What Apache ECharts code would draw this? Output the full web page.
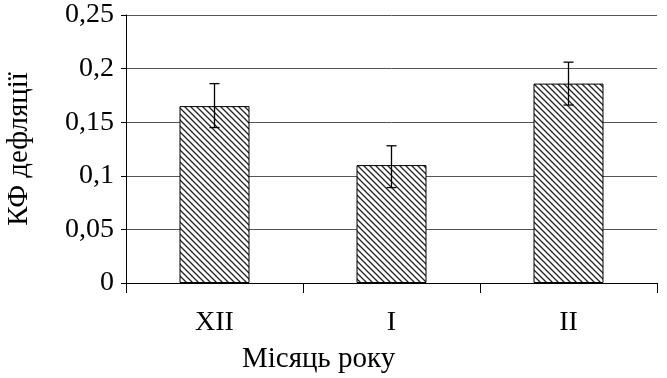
<!DOCTYPE html>
<html><head><meta charset="utf-8">
<script src="https://cdn.jsdelivr.net/npm/echarts@6/dist/echarts.min.js"></script>
<style>html,body{margin:0;padding:0;background:#fff}#c{width:667px;height:378px}</style>
</head><body><div id="c"></div>
<script>
const categories = ['XII', 'I', 'II'];
const values = [0.165, 0.11, 0.186];
const errLow = [0.145, 0.089, 0.166];
const errHigh = [0.186, 0.128, 0.206];
const yTicks = [0, 0.05, 0.1, 0.15, 0.2, 0.25];

function hatch() {
  const c = document.createElement('canvas');
  c.width = 6; c.height = 6;
  const g = c.getContext('2d');
  g.fillStyle = '#fff'; g.fillRect(0, 0, 6, 6);
  g.strokeStyle = '#222'; g.lineWidth = 1.3;
  g.beginPath();
  g.moveTo(-1, -1); g.lineTo(7, 7);
  g.moveTo(-4, 2); g.lineTo(4, 10);
  g.moveTo(2, -4); g.lineTo(10, 4);
  g.stroke();
  return c;
}

const font = '"Liberation Serif", "Times New Roman", serif';
const fs = 28;
const chart = echarts.init(document.getElementById('c'), null, {renderer: 'canvas'});
chart.setOption({
  animation: false,
  textStyle: {fontFamily: font},
  grid: {left: 126, right: 10, top: 15, bottom: 95, containLabel: false, outerBoundsMode: 'none'},
  xAxis: {
    type: 'category', data: categories, boundaryGap: true,
    axisLine: {lineStyle: {color: '#000', width: 1}},
    axisTick: {show: true, length: 10, lineStyle: {color: '#000'}},
    axisLabel: {color: '#000', fontSize: fs, fontFamily: font, margin: 26}
  },
  yAxis: {
    type: 'value', min: 0, max: 0.25, interval: 0.05,
    name: 'КФ дефляції', nameLocation: 'middle', nameGap: 92,
    nameTextStyle: {color: '#000', fontSize: 29, fontFamily: font},
    axisLine: {show: true, lineStyle: {color: '#000'}},
    axisTick: {show: true, length: 5, lineStyle: {color: '#000'}},
    axisLabel: {color: '#000', fontSize: fs, fontFamily: font, margin: 12,
      formatter: v => String(+v.toFixed(2)).replace('.', ',')},
    splitLine: {lineStyle: {color: '#555', width: 1}}
  },
  graphic: [{type: 'text', left: 242, top: 345,
    style: {text: 'Місяць року', fill: '#000', font: '29px "Liberation Serif", "Times New Roman", serif'}}],
  series: [
    {type: 'bar', data: values, barWidth: 70,
      itemStyle: {color: {image: hatch(), repeat: 'repeat'}, borderColor: '#000', borderWidth: 1}},
    {type: 'custom', data: categories.map((c, i) => [i, errLow[i], errHigh[i]]),
      renderItem: function (params, api) {
        const lo = api.coord([api.value(0), api.value(1)]);
        const hi = api.coord([api.value(0), api.value(2)]);
        const w = 5;
        const st = {stroke: '#000', lineWidth: 1.3};
        return {type: 'group', children: [
          {type: 'line', shape: {x1: lo[0], y1: lo[1], x2: hi[0], y2: hi[1]}, style: st},
          {type: 'line', shape: {x1: lo[0] - w, y1: lo[1], x2: lo[0] + w, y2: lo[1]}, style: st},
          {type: 'line', shape: {x1: hi[0] - w, y1: hi[1], x2: hi[0] + w, y2: hi[1]}, style: st}
        ]};
      }, z: 5}
  ]
});
</script></body></html>
